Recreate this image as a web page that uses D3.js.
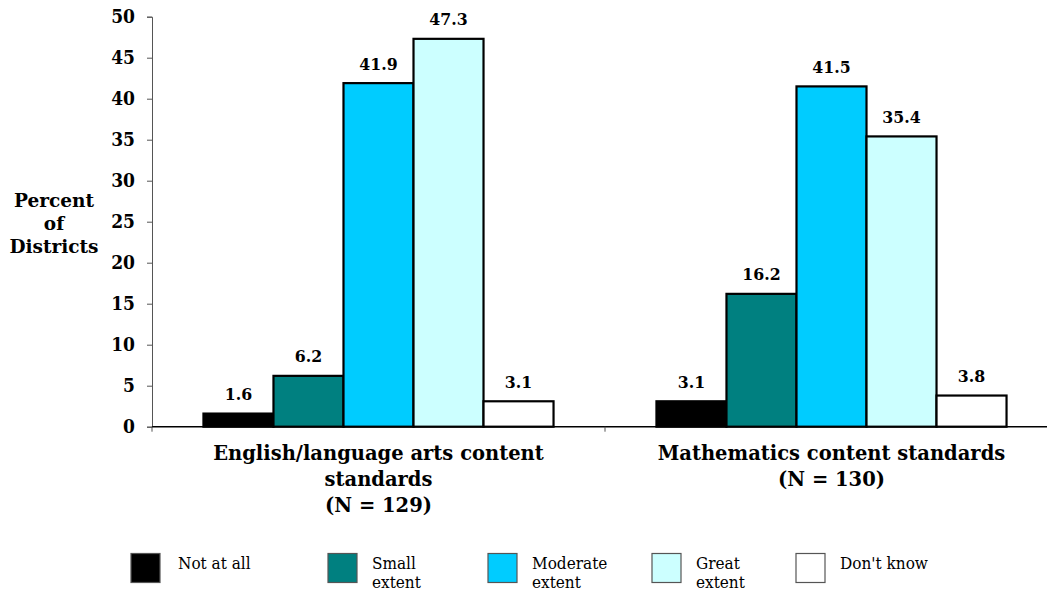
<!DOCTYPE html>
<html>
<head>
<meta charset="utf-8">
<script src="https://cdn.jsdelivr.net/npm/d3@7"></script>
<style>
  body { margin: 0; background: #fff; }
  svg { display: block; }
  text { font-family: "DejaVu Serif", serif; fill: #000; }
  .cond { font-family: "DejaVu Serif Condensed", "DejaVu Serif", serif; }
</style>
</head>
<body>
<svg id="chart" width="1047" height="592"></svg>
<script>
// Survey groups (x categories), with multi-line labels
const groups = ["English/language arts content standards", "Mathematics content standards"];
const groupLabelLines = [
  ["English/language arts content", "standards", "(N = 129)"],
  ["Mathematics content standards", "(N = 130)"]
];
// Response levels (series)
const levels = ["Not at all", "Small extent", "Moderate extent", "Great extent", "Don't know"];
const levelLabelLines = [["Not at all"], ["Small", "extent"], ["Moderate", "extent"], ["Great", "extent"], ["Don't know"]];
const levelColors = ["#000000", "#008080", "#00CCFF", "#CCFFFF", "#FFFFFF"];
// Percent of districts, one array per group, in level order
const englishValues = [1.6, 6.2, 41.9, 47.3, 3.1];
const mathValues = [3.1, 16.2, 41.5, 35.4, 3.8];
const yTicks = [0, 5, 10, 15, 20, 25, 30, 35, 40, 45, 50];

const values = [englishValues, mathValues];

const svg = d3.select("#chart");
const plotLeft = 152, plotRight = 1058, plotTop = 16.7, plotBottom = 426.7;

const x0 = d3.scaleBand().domain(groups).range([plotLeft, plotRight]).paddingInner(0).paddingOuter(0);
const x1 = d3.scaleBand().domain(levels).range([0, x0.bandwidth()]).paddingOuter(0.735).paddingInner(0);
const y = d3.scaleLinear().domain([0, 50]).range([plotBottom, plotTop]);
const color = d3.scaleOrdinal().domain(levels).range(levelColors);

// Y axis
const yAxis = svg.append("g").attr("transform", `translate(${plotLeft},0)`)
  .call(d3.axisLeft(y).tickValues(yTicks).tickSize(5).tickPadding(12));
yAxis.select(".domain").attr("stroke", "#555").attr("stroke-width", 1);
yAxis.selectAll(".tick line").attr("stroke", "#555");
yAxis.selectAll(".tick text")
  .attr("class", "cond")
  .style("font-family", '"DejaVu Serif Condensed", "DejaVu Serif", serif')
  .style("font-size", "19px").style("font-weight", "bold").attr("fill", "#000");

// Y axis title
const yTitle = svg.append("text").attr("text-anchor", "middle")
  .style("font-size", "18.5px").style("font-weight", "bold");
["Percent", "of", "Districts"].forEach((t, i) => {
  yTitle.append("tspan").attr("x", 54).attr("y", 207 + i * 23).text(t);
});

// Bars
const gGroups = svg.append("g").selectAll("g").data(groups).join("g")
  .attr("transform", d => `translate(${x0(d)},0)`);

gGroups.selectAll("rect")
  .data((g, gi) => levels.map((l, li) => ({ level: l, value: values[gi][li] })))
  .join("rect")
  .attr("x", d => x1(d.level))
  .attr("y", d => y(d.value))
  .attr("width", x1.bandwidth())
  .attr("height", d => y(0) - y(d.value))
  .attr("fill", d => color(d.level))
  .attr("stroke", "#000")
  .attr("stroke-width", 2.2);

gGroups.selectAll("text.val")
  .data((g, gi) => levels.map((l, li) => ({ level: l, value: values[gi][li] })))
  .join("text").attr("class", "val cond")
  .attr("x", d => x1(d.level) + x1.bandwidth() / 2)
  .attr("y", d => y(d.value) - 13.5)
  .attr("text-anchor", "middle")
  .style("font-size", "17.5px").style("font-weight", "bold")
  .text(d => d3.format(".1f")(d.value));

// X axis line with a separator tick between groups
svg.append("line").attr("x1", plotLeft).attr("x2", 1047).attr("y1", plotBottom).attr("y2", plotBottom)
  .attr("stroke", "#000").attr("stroke-width", 1.5);
svg.append("line").attr("x1", x0(groups[1])).attr("x2", x0(groups[1]))
  .attr("y1", plotBottom).attr("y2", plotBottom + 5).attr("stroke", "#555");
svg.append("line").attr("x1", plotLeft).attr("x2", plotLeft)
  .attr("y1", plotBottom).attr("y2", plotBottom + 5).attr("stroke", "#555");

// Group labels
groups.forEach((g, gi) => {
  const t = svg.append("text").attr("text-anchor", "middle")
    .style("font-size", "19.5px").style("font-weight", "bold");
  groupLabelLines[gi].forEach((line, li) => {
    t.append("tspan").attr("x", x0(g) + x0.bandwidth() / 2).attr("y", 460 + li * 26).text(line);
  });
});

// Legend
const legendX = [131, 328, 488, 652, 796];
const legend = svg.append("g").selectAll("g").data(levels).join("g")
  .attr("transform", (d, i) => `translate(${legendX[i]},553.5)`);
legend.append("rect").attr("width", 29).attr("height", 29)
  .attr("fill", d => color(d)).attr("stroke", "#555").attr("stroke-width", 1.2);
legend.append("text").attr("class", "cond").style("font-size", "17px")
  .each(function (d, i) {
    levelLabelLines[i].forEach((line, li) => {
      d3.select(this).append("tspan").attr("x", i === 0 ? 47 : 44).attr("y", 15 + li * 19).text(line);
    });
  });
</script>
</body>
</html>
